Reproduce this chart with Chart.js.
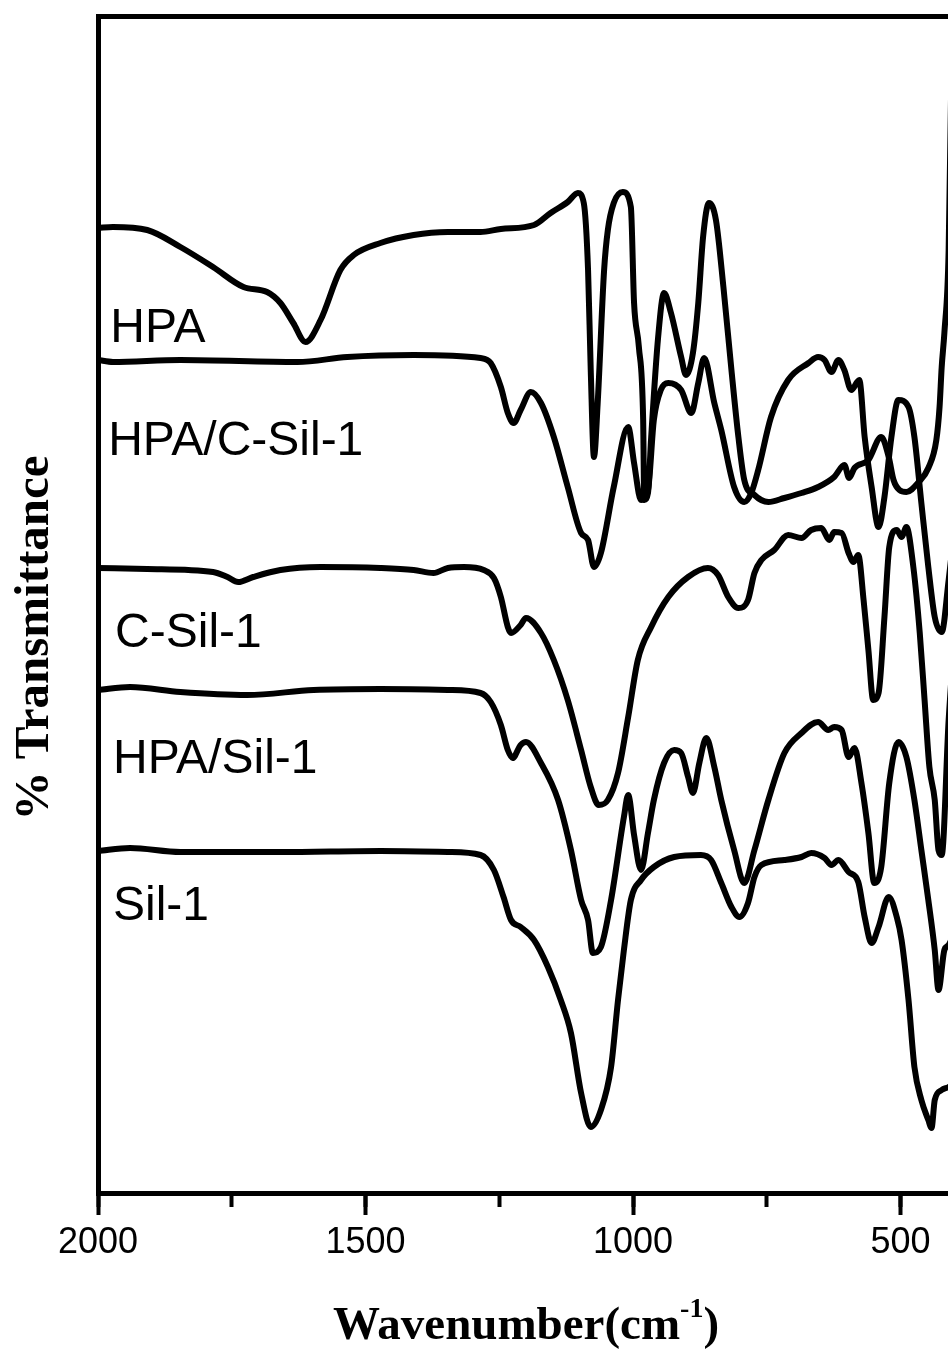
<!DOCTYPE html>
<html>
<head>
<meta charset="utf-8">
<script src="https://cdn.jsdelivr.net/npm/chart.js@4.4.1/dist/chart.umd.min.js"></script>
<style>
  html, body { margin: 0; padding: 0; background: #fff; overflow: hidden; }
  #wrap { width: 960px; height: 1353px; }
</style>
</head>
<body>
<div id="wrap"><canvas id="ftir" width="960" height="1353"></canvas></div>
<script>
// FTIR spectra, stacked (arbitrary transmittance units), wavenumber in cm-1
const seriesNames = ['HPA', 'HPA/C-Sil-1', 'C-Sil-1', 'HPA/Sil-1', 'Sil-1'];
const xTicks = [2000, 1500, 1000, 500];

const hpaWn = [2000,1972,1908,1846,1785,1728,1684,1659,1635,1612,1584,1547,1522,1472,1410,1346,1285,1247,1185,1154,1122,1103,1092,1084,1079,1073,1066,1054,1047,1036,1019,1004,998,989,981,979,972,966,953,942,929,910,901,888,878,869,858,845,831,816,803,792,773,747,717,685,654,624,605,596,586,560,536,522,513,502,489,466,448,433,427,423,418,410,400];
const hpaT = [96.5,96.6,96.3,94.6,92.6,90.6,90.1,89.0,87.0,85.1,87.3,92.3,93.8,95.0,95.8,96.1,96.1,96.4,96.8,98.0,99.1,100.0,99.0,92.3,82.3,73.6,79.0,92.3,96.3,99.0,100.1,98.6,89.0,84.6,77.3,69.3,70.0,75.6,85.6,90.0,88.0,83.6,81.8,84.0,89.0,95.6,99.0,97.3,90.6,82.3,75.6,71.3,69.8,69.1,69.5,70.0,70.6,71.6,72.8,71.5,72.5,73.3,75.6,73.6,71.3,70.3,70.1,71.1,72.5,75.3,78.6,82.6,86.0,94.3,130];

const hpaCsilWn = [2000,1972,1846,1627,1534,1410,1285,1266,1247,1234,1223,1210,1191,1172,1148,1122,1097,1084,1073,1060,1036,1009,998,985,972,961,948,934,910,891,878,867,848,835,811,792,779,766,742,710,672,654,642,629,616,605,592,577,567,554,541,530,517,504,485,474,461,448,436,423,410,400];
const hpaCsilT = [83.3,83.1,83.3,83.1,83.6,83.8,83.5,83.0,80.6,78.0,77.0,78.3,80.1,79.0,75.6,70.6,66.0,65.3,62.6,64.0,70.6,76.6,73.0,69.3,70.3,77.3,80.3,81.0,80.3,78.0,81.0,83.5,79.0,76.3,70.6,69.1,70.0,72.3,77.6,81.3,83.0,83.6,83.3,82.1,83.3,82.3,80.3,81.3,75.6,70.6,66.6,69.6,75.6,79.3,78.6,75.6,69.0,62.6,57.6,56.1,61.3,66];

const csilWn = [2000,1908,1785,1758,1738,1710,1659,1584,1472,1410,1373,1346,1316,1279,1260,1247,1234,1228,1210,1200,1172,1148,1122,1097,1079,1064,1047,1028,1009,991,966,934,897,860,841,822,803,785,773,760,736,710,685,667,648,633,624,610,597,588,579,569,560,551,541,530,521,507,498,489,476,464,455,446,436,429,423,410,400];
const csilT = [62.5,62.4,62.1,61.6,61.1,61.6,62.3,62.6,62.5,62.3,62.0,62.5,62.6,62.3,61.5,59.6,56.6,56.0,56.8,57.5,56.0,53.3,49.3,44.3,40.6,38.8,39.3,42.0,47.6,53.3,56.6,59.6,61.6,62.5,61.8,59.6,58.5,59.3,62.0,63.3,64.3,65.8,65.5,66.3,66.5,65.3,66.1,66.0,64.0,63.1,63.8,59.3,54.3,49.3,50.0,57.6,64.6,66.3,65.6,66.6,62.6,56.0,49.3,42.6,39.3,34.3,33.8,47.3,55];

const hpaSilWn = [2000,1940,1846,1721,1597,1472,1346,1285,1266,1247,1234,1225,1210,1200,1172,1140,1116,1097,1084,1075,1060,1041,1017,1009,998,985,972,961,942,923,910,897,888,876,863,848,835,811,792,773,747,717,685,654,635,624,610,597,586,573,560,549,536,521,504,489,474,461,448,436,429,418,410,400];
const hpaSilT = [50.3,50.6,50.1,49.8,50.3,50.4,50.3,50.0,49.1,46.8,44.3,43.5,44.8,45.1,43.0,39.3,34.3,29.3,27.3,24.0,24.6,29.3,37.6,39.8,35.8,32.3,36.0,39.3,43.0,44.3,44.0,41.6,40.0,43.0,45.5,42.6,39.3,34.3,31.0,34.3,39.3,44.0,46.0,47.1,46.3,46.6,46.3,43.6,44.5,41.0,36.0,31.0,32.6,41.0,45.1,43.6,39.3,34.3,29.3,24.3,20.3,24.3,24.8,26];

const silWn = [2000,1940,1846,1659,1472,1346,1285,1260,1242,1228,1210,1185,1159,1135,1116,1097,1079,1060,1041,1028,1017,1004,985,961,923,873,854,835,816,801,785,773,760,717,685,667,642,629,616,597,579,567,554,541,522,507,498,485,474,461,448,442,436,423,410,400];
const silT = [34.2,34.5,34.1,34.1,34.2,34.1,33.8,32.3,29.6,27.3,26.6,25.3,22.6,19.3,16.0,10.0,6.6,8.3,12.6,19.3,24.3,29.3,31.3,32.6,33.6,33.8,33.3,31.0,28.6,27.6,29.0,31.6,32.8,33.3,33.6,34.0,33.5,32.8,33.3,32.1,31.1,27.6,25.0,26.6,29.6,27.6,25.3,19.3,12.6,9.3,7.3,6.5,9.3,10.3,10.6,11];

// where each curve name is written, [wavenumber, transmittance] of its text baseline start
const labelAt = [[1977, 85.1], [1981, 73.8], [1968, 54.6], [1972, 42.0], [1972, 27.3]];

const wnLists = [hpaWn, hpaCsilWn, csilWn, hpaSilWn, silWn];
const tLists = [hpaT, hpaCsilT, csilT, hpaSilT, silT];

const datasets = seriesNames.map((name, i) => ({
    label: name,
    data: wnLists[i].map((w, k) => ({ x: w, y: tLists[i][k] })),
    borderColor: '#000',
    borderWidth: 6,
    borderJoinStyle: 'round',
    borderCapStyle: 'round',
    cubicInterpolationMode: 'monotone',
    pointRadius: 0,
    fill: false
}));

const SANS = '"Liberation Sans", Arial, sans-serif';
const SERIF = '"Liberation Serif", "Times New Roman", serif';

// curve names + axis titles (x title has a superscript)
const captionPlugin = {
    id: 'captions',
    afterDraw(chart) {
        const { ctx, chartArea, scales } = chart;
        ctx.save();
        ctx.fillStyle = '#000';
        ctx.textAlign = 'left';
        ctx.textBaseline = 'alphabetic';
        ctx.font = '48px ' + SANS;
        seriesNames.forEach((name, i) => {
            ctx.fillText(name, scales.x.getPixelForValue(labelAt[i][0]), scales.y.getPixelForValue(labelAt[i][1]));
        });

        // Y title
        ctx.save();
        ctx.translate(35, 638);
        ctx.rotate(-Math.PI / 2);
        ctx.font = 'bold 49px ' + SERIF;
        ctx.textAlign = 'center';
        ctx.textBaseline = 'middle';
        ctx.fillText('% Transmittance', 0, 0);
        ctx.restore();

        // X title
        const big = 'bold 47px ' + SERIF, small = 'bold 28px ' + SERIF;
        const parts = [['Wavenumber(cm', big, 0], ['-1', small, -22], [')', big, 0]];
        let total = 0;
        parts.forEach(p => { ctx.font = p[1]; total += ctx.measureText(p[0]).width; });
        let x = (chartArea.left + chartArea.right) / 2 - total / 2;
        parts.forEach(p => {
            ctx.font = p[1];
            ctx.fillText(p[0], x, 1339 + p[2]);
            x += ctx.measureText(p[0]).width;
        });
        ctx.restore();
    }
};

new Chart(document.getElementById('ftir'), {
    type: 'line',
    data: { datasets: datasets },
    options: {
        responsive: false,
        animation: false,
        devicePixelRatio: 1,
        layout: { padding: { top: 16, right: 6, left: 0, bottom: 0 } },
        plugins: { legend: { display: false }, tooltip: { enabled: false } },
        scales: {
            x: {
                type: 'linear', position: 'bottom', reverse: true, min: 400, max: 2000, weight: 1,
                border: { display: true, width: 5, color: '#000' },
                grid: { drawOnChartArea: false, drawTicks: true, tickLength: 22, tickWidth: 4, tickColor: '#000', color: '#000' },
                afterBuildTicks: s => { s.ticks = xTicks.map(v => ({ value: v })); },
                ticks: {
                    color: '#000', padding: 6, maxRotation: 0, autoSkip: false,
                    font: { family: SANS, size: 36 },
                    callback: v => String(v)
                },
                afterFit: s => { s.height = 160; }
            },
            xMinor: {
                type: 'linear', position: 'bottom', reverse: true, min: 400, max: 2000, weight: 0,
                border: { display: false },
                grid: { drawOnChartArea: false, drawTicks: true, tickLength: 14, tickWidth: 4, tickColor: '#000' },
                ticks: { display: false, stepSize: 250, includeBounds: false },
                afterFit: s => { s.height = 0; }
            },
            xTop: {
                type: 'linear', position: 'top', reverse: true, min: 400, max: 2000,
                border: { display: true, width: 5, color: '#000' },
                grid: { display: false },
                ticks: { display: false },
                afterFit: s => { s.height = 0; }
            },
            y: {
                type: 'linear', position: 'left', min: 0, max: 117.7,
                border: { display: true, width: 5, color: '#000' },
                grid: { display: false },
                ticks: { display: false },
                afterFit: s => { s.width = 98; }
            }
        }
    },
    plugins: [captionPlugin]
});
</script>
</body>
</html>
